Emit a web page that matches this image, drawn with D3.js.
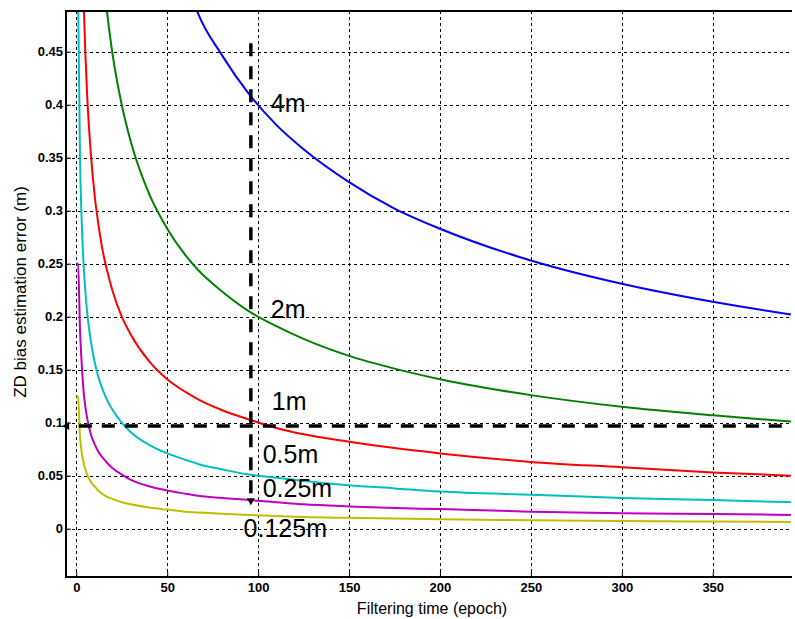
<!DOCTYPE html>
<html>
<head>
<meta charset="utf-8">
<script src="https://cdn.jsdelivr.net/npm/d3@7"></script>
<style>
  body { margin: 0; background: #fff; }
  svg { display: block; font-family: Arial, "Liberation Sans", sans-serif; }
</style>
</head>
<body>
<div id="chart"></div>
<script>
const width = 795;
const height = 619;
const margin = { top: 11, right: 3, bottom: 42, left: 66 };

const epochs = [0, 1, 2, 3, 4, 5, 6, 8, 10, 12, 15, 17, 20, 25, 30, 40, 50, 60, 67, 80, 95, 110, 125, 150, 175, 200, 250, 300, 350, 393];

const s4m    = [null, null, null, null, null, null, null, null, null, null, null, null, null, null, null, null, null, 0.52, 0.486, 0.447, 0.41, 0.381, 0.358, 0.327, 0.302, 0.283, 0.253, 0.231, 0.214, 0.202];
const s2m    = [null, null, null, null, null, null, null, null, null, null, 0.516, 0.486, 0.447, 0.40, 0.365, 0.316, 0.283, 0.258, 0.244, 0.224, 0.205, 0.191, 0.179, 0.163, 0.151, 0.141, 0.126, 0.115, 0.107, 0.101];
const s1m    = [null, null, null, 0.577, 0.50, 0.447, 0.408, 0.354, 0.316, 0.289, 0.258, 0.243, 0.224, 0.20, 0.183, 0.158, 0.141, 0.129, 0.122, 0.112, 0.103, 0.095, 0.089, 0.082, 0.076, 0.071, 0.063, 0.058, 0.053, 0.050];
const s05m   = [null, 0.50, 0.354, 0.289, 0.25, 0.224, 0.204, 0.177, 0.158, 0.144, 0.129, 0.121, 0.112, 0.10, 0.091, 0.079, 0.071, 0.065, 0.061, 0.056, 0.051, 0.048, 0.045, 0.041, 0.038, 0.035, 0.032, 0.029, 0.027, 0.025];
const s025m  = [0.25, 0.25, 0.19, 0.155, 0.13, 0.115, 0.104, 0.089, 0.080, 0.073, 0.066, 0.062, 0.057, 0.051, 0.046, 0.040, 0.036, 0.033, 0.031, 0.029, 0.027, 0.025, 0.023, 0.021, 0.0195, 0.0185, 0.016, 0.0145, 0.0138, 0.013];
const s0125m = [0.125, 0.125, 0.088, 0.072, 0.0625, 0.056, 0.051, 0.044, 0.040, 0.036, 0.032, 0.030, 0.028, 0.025, 0.023, 0.020, 0.018, 0.016, 0.0153, 0.014, 0.0128, 0.012, 0.011, 0.0102, 0.0095, 0.0088, 0.008, 0.0072, 0.0067, 0.0063];

const seriesNames  = ["4m", "2m", "1m", "0.5m", "0.25m", "0.125m"];
const seriesValues = [s4m, s2m, s1m, s05m, s025m, s0125m];
const seriesColors = ["#0000ff", "#008000", "#ff0000", "#00bfbf", "#bf00bf", "#bfbf00"];

const xTicks = [0, 50, 100, 150, 200, 250, 300, 350];
const yTicks = [0, 0.05, 0.1, 0.15, 0.2, 0.25, 0.3, 0.35, 0.4, 0.45];
const yTickLabels = ["0", "0.05", "0.1", "0.15", "0.2", "0.25", "0.3", "0.35", "0.4", "0.45"];

// annotation: dashed guide lines
const guideEpoch = 96;
const guideEpochRange = [0.458, 0.022];
const guideError = 0.0968;
const guideErrorRange = [388, -7.8];

// label anchors (epoch, value) for curve names
const labelEpochs = [107, 107, 107.5, 102.5, 102.5, 92];
const labelValues = [0.393, 0.199, 0.112, 0.062, 0.030, -0.0075];

const svg = d3.select("#chart")
  .append("svg")
  .attr("width", width)
  .attr("height", height);

const x = d3.scaleLinear()
  .domain([-5.66, 393.6])
  .range([margin.left, width - margin.right]);

const y = d3.scaleLinear()
  .domain([-0.0456, 0.4884])
  .range([height - margin.bottom, margin.top]);

svg.append("defs").append("clipPath")
  .attr("id", "plot-clip")
  .append("rect")
  .attr("x", margin.left)
  .attr("y", margin.top)
  .attr("width", width - margin.left - margin.right)
  .attr("height", height - margin.top - margin.bottom);

// grid
const grid = svg.append("g")
  .attr("stroke", "#000")
  .attr("stroke-width", 1)
  .attr("stroke-dasharray", "3,3");

grid.selectAll(".gx")
  .data(xTicks)
  .enter()
  .append("line")
  .attr("x1", d => Math.round(x(d)) + 0.5)
  .attr("x2", d => Math.round(x(d)) + 0.5)
  .attr("y1", margin.top)
  .attr("y2", height - margin.bottom);

grid.selectAll(".gy")
  .data(yTicks)
  .enter()
  .append("line")
  .attr("y1", d => Math.round(y(d)) + 0.5)
  .attr("y2", d => Math.round(y(d)) + 0.5)
  .attr("x1", margin.left)
  .attr("x2", width - margin.right);

// curves
const line = d3.line()
  .defined(d => d[1] !== null)
  .curve(d3.curveMonotoneX)
  .x(d => x(d[0]))
  .y(d => y(d[1]));

const curves = svg.append("g").attr("clip-path", "url(#plot-clip)");

seriesValues.forEach((vals, i) => {
  const pts = epochs.map((e, j) => [e, vals[j]]);
  curves.append("path")
    .datum(pts)
    .attr("fill", "none")
    .attr("stroke", seriesColors[i])
    .attr("stroke-width", 2)
    .attr("d", line);
});

// axes (ticks point inward)
const xAxis = d3.axisBottom(x).tickValues(xTicks).tickSize(-5).tickPadding(6).tickFormat(d3.format("d"));
const yAxis = d3.axisLeft(y).tickValues(yTicks).tickSize(-5).tickPadding(3).tickFormat((d, i) => yTickLabels[i]);

const gx = svg.append("g")
  .attr("transform", "translate(0," + (height - margin.bottom) + ")")
  .call(xAxis);

const gy = svg.append("g")
  .attr("transform", "translate(" + margin.left + ",0)")
  .call(yAxis);

[gx, gy].forEach(g => {
  g.select(".domain").remove();
  g.selectAll("text")
    .attr("fill", "#000")
    .style("font-size", "13px")
    .style("font-weight", "bold");
  g.selectAll("line").attr("stroke", "#000");
});

// frame: left, top, bottom
svg.append("path")
  .attr("fill", "none")
  .attr("stroke", "#000")
  .attr("stroke-width", 2)
  .attr("d", "M" + (width - margin.right) + "," + margin.top + "H" + margin.left + "V" + (height - margin.bottom) + "H" + (width - margin.right));

// dashed guides with arrow heads
const guides = svg.append("g")
  .attr("stroke", "#000")
  .attr("stroke-width", 3.5)
  .attr("stroke-dasharray", "13,10");

guides.append("line")
  .attr("x1", x(guideEpoch)).attr("x2", x(guideEpoch))
  .attr("y1", y(guideEpochRange[0])).attr("y2", y(guideEpochRange[1]) - 5);

guides.append("line")
  .attr("y1", y(guideError)).attr("y2", y(guideError))
  .attr("x1", x(guideErrorRange[0])).attr("x2", x(guideErrorRange[1]) + 5);

const vx = x(guideEpoch), vy = y(guideEpochRange[1]);
svg.append("path")
  .attr("fill", "#000")
  .attr("d", `M${vx - 4},${vy - 7}L${vx + 4},${vy - 7}L${vx},${vy}Z`);

const hx = x(guideErrorRange[1]), hy = y(guideError);
svg.append("path")
  .attr("fill", "#000")
  .attr("d", `M${hx + 7},${hy - 4}L${hx + 7},${hy + 4}L${hx},${hy}Z`);

// curve labels
svg.selectAll(".lbl")
  .data(seriesNames)
  .enter()
  .append("text")
  .attr("x", (d, i) => x(labelEpochs[i]))
  .attr("y", (d, i) => y(labelValues[i]))
  .attr("fill", "#000")
  .style("font-size", "25px")
  .text(d => d);

// axis titles
svg.append("text")
  .attr("x", 432)
  .attr("y", 614)
  .attr("text-anchor", "middle")
  .style("font-size", "16px")
  .text("Filtering time (epoch)");

svg.append("text")
  .attr("transform", "translate(26,292) rotate(-90)")
  .attr("text-anchor", "middle")
  .style("font-size", "17px")
  .text("ZD bias estimation error (m)");
</script>
</body>
</html>
